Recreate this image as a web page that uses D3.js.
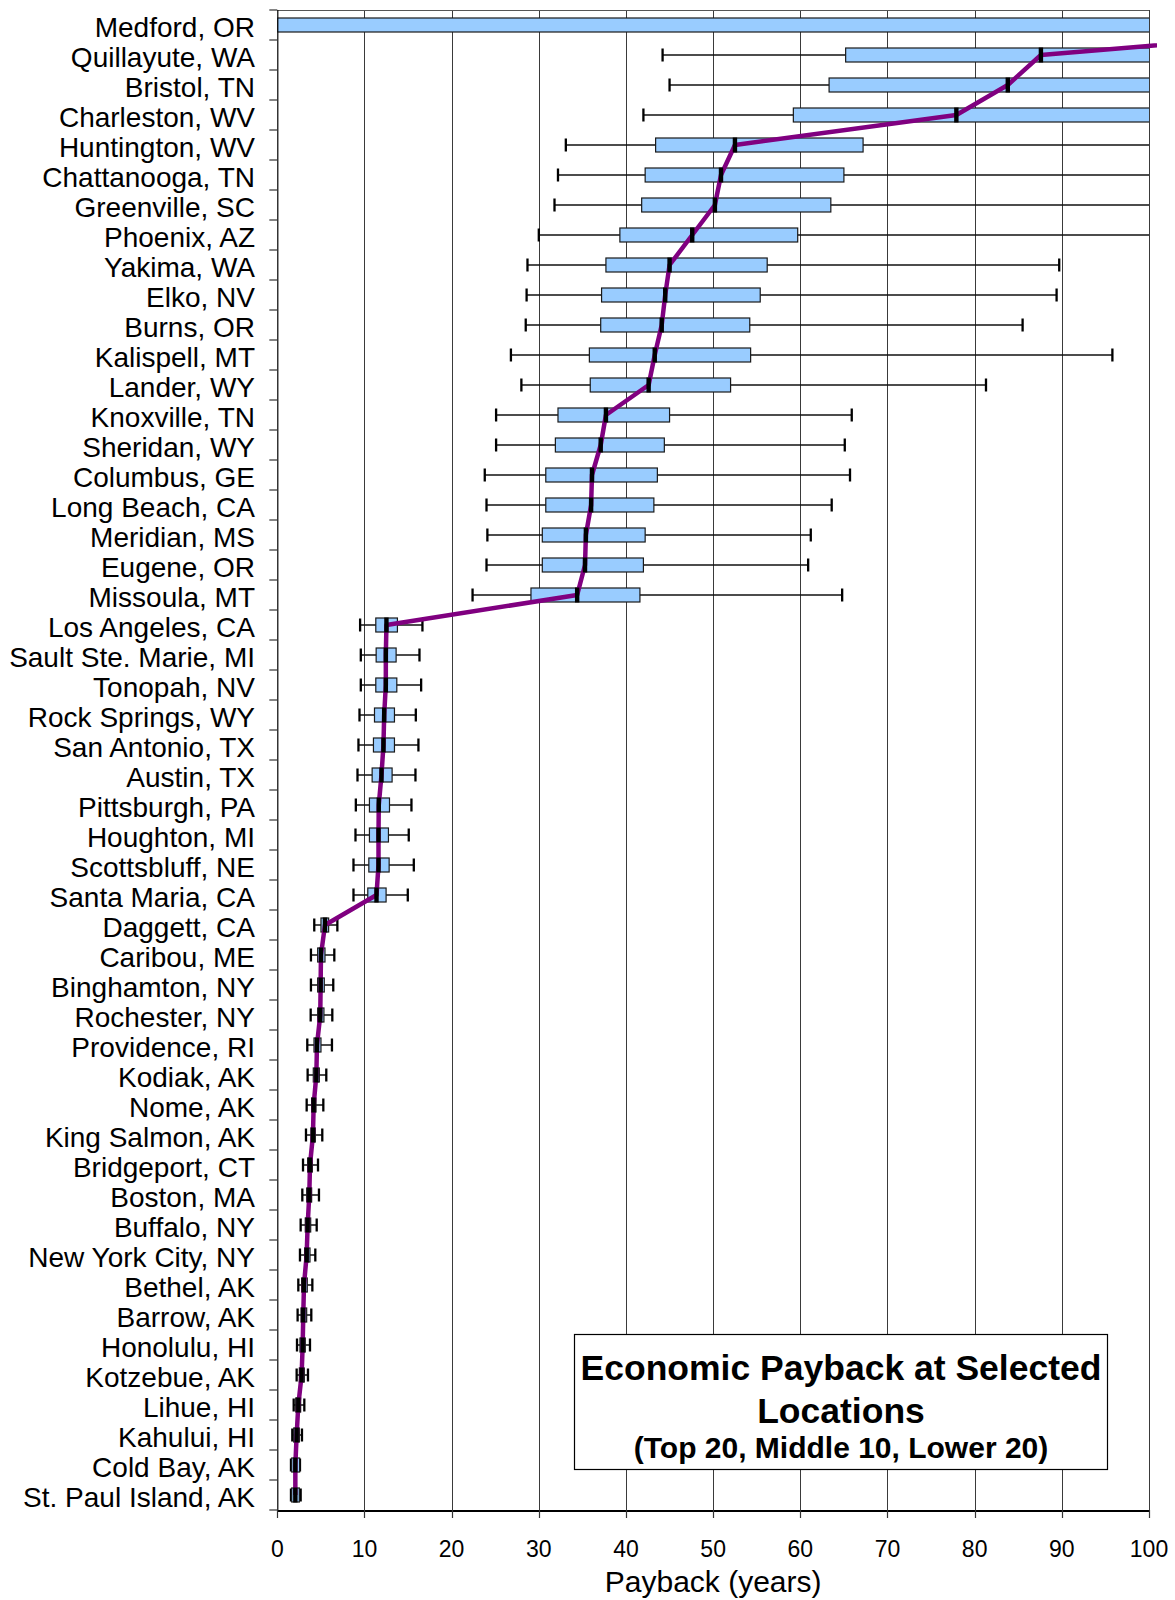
<!DOCTYPE html>
<html>
<head>
<meta charset="utf-8">
<script src="https://cdn.jsdelivr.net/npm/d3@7"></script>
<style>
  html, body { margin: 0; padding: 0; background: #fff; }
  svg { display: block; font-family: "Liberation Sans", Arial, sans-serif; }
</style>
</head>
<body>
<svg id="chart" width="1175" height="1600"></svg>
<script>
// Payback distribution per location (years): whiskers, quartiles and median.
const cities = [
  "Medford, OR", "Quillayute, WA", "Bristol, TN", "Charleston, WV", "Huntington, WV",
  "Chattanooga, TN", "Greenville, SC", "Phoenix, AZ", "Yakima, WA", "Elko, NV",
  "Burns, OR", "Kalispell, MT", "Lander, WY", "Knoxville, TN", "Sheridan, WY",
  "Columbus, GE", "Long Beach, CA", "Meridian, MS", "Eugene, OR", "Missoula, MT",
  "Los Angeles, CA", "Sault Ste. Marie, MI", "Tonopah, NV", "Rock Springs, WY", "San Antonio, TX",
  "Austin, TX", "Pittsburgh, PA", "Houghton, MI", "Scottsbluff, NE", "Santa Maria, CA",
  "Daggett, CA", "Caribou, ME", "Binghamton, NY", "Rochester, NY", "Providence, RI",
  "Kodiak, AK", "Nome, AK", "King Salmon, AK", "Bridgeport, CT", "Boston, MA",
  "Buffalo, NY", "New York City, NY", "Bethel, AK", "Barrow, AK", "Honolulu, HI",
  "Kotzebue, AK", "Lihue, HI", "Kahului, HI", "Cold Bay, AK", "St. Paul Island, AK"
];

const lowWhisker = [
  null, 44.2, 45.0, 42.0, 33.1, 32.2, 31.8, 30.0, 28.7, 28.6,
  28.5, 26.8, 28.0, 25.1, 25.1, 23.8, 24.0, 24.1, 24.0, 22.4,
  9.50, 9.58, 9.58, 9.43, 9.31, 9.20, 9.01, 8.97, 8.74, 8.74,
  4.24, 3.86, 3.86, 3.83, 3.44, 3.48, 3.37, 3.29, 2.95, 2.87,
  2.68, 2.60, 2.41, 2.33, 2.26, 2.22, 1.88, 1.72, 1.57, 1.57
];

const q1 = [
  0, 65.2, 63.3, 59.2, 43.4, 42.2, 41.8, 39.3, 37.7, 37.2,
  37.1, 35.8, 35.9, 32.2, 31.9, 30.8, 30.8, 30.4, 30.4, 29.1,
  11.30, 11.34, 11.30, 11.15, 11.03, 10.88, 10.57, 10.57, 10.50, 10.38,
  5.01, 4.63, 4.63, 4.63, 4.21, 4.13, 3.94, 3.86, 3.48, 3.37,
  3.21, 3.14, 2.79, 2.72, 2.60, 2.53, 2.11, 1.88, 1.65, 1.65
];

const median = [
  129, 87.6, 83.8, 77.9, 52.5, 50.9, 50.2, 47.6, 45.0, 44.5,
  44.1, 43.3, 42.6, 37.7, 37.1, 36.1, 36.0, 35.4, 35.3, 34.4,
  12.52, 12.45, 12.45, 12.26, 12.18, 11.95, 11.64, 11.61, 11.61, 11.38,
  5.47, 5.01, 4.97, 4.93, 4.55, 4.48, 4.17, 4.09, 3.75, 3.67,
  3.48, 3.37, 3.06, 2.98, 2.91, 2.79, 2.41, 2.22, 2.07, 2.07
];

const q3 = [
  200, 110, 108, 105, 67.2, 65.0, 63.5, 59.7, 56.2, 55.4,
  54.2, 54.3, 52.0, 45.0, 44.4, 43.6, 43.2, 42.2, 42.0, 41.6,
  13.78, 13.63, 13.71, 13.44, 13.44, 13.17, 12.87, 12.75, 12.83, 12.48,
  5.89, 5.47, 5.39, 5.35, 5.01, 4.82, 4.44, 4.36, 4.02, 3.94,
  3.83, 3.75, 3.44, 3.37, 3.21, 3.10, 2.68, 2.53, 2.56, 2.53
];

const highWhisker = [
  null, 140, 135, 130, 115, 112, 110, 105, 89.7, 89.4,
  85.5, 95.8, 81.3, 65.9, 65.1, 65.7, 63.6, 61.2, 60.9, 64.8,
  16.65, 16.31, 16.50, 15.89, 16.19, 15.85, 15.39, 15.08, 15.66, 14.97,
  6.89, 6.54, 6.42, 6.31, 6.27, 5.62, 5.28, 5.16, 4.67, 4.78,
  4.52, 4.36, 4.02, 3.90, 3.75, 3.52, 3.10, 2.83, 2.60, 2.68
];

const xTicks = [0, 10, 20, 30, 40, 50, 60, 70, 80, 90, 100];
const titleLines = ["Economic Payback at Selected", "Locations", "(Top 20, Middle 10, Lower 20)"];
const axisTitle = "Payback (years)";

const rows = cities.map((c, i) => ({
  city: c, lo: lowWhisker[i], q1: q1[i], med: median[i], q3: q3[i], hi: highWhisker[i]
}));

const margin = { top: 10, right: 26, bottom: 90, left: 277.3 };
const W = 1175, H = 1600;
const plotW = W - margin.left - margin.right;
const plotH = 1500;

const svg = d3.select("#chart");
const x = d3.scaleLinear().domain([0, 100]).range([margin.left, margin.left + plotW]);
const y = d3.scaleBand().domain(cities).range([margin.top, margin.top + plotH]).padding(0);
const yc = d => y(d) + y.bandwidth() / 2;
const boxH = 14, capH = 13;

// clip regions for marks that run past the axis range
const defs = svg.append("defs");
defs.append("clipPath").attr("id", "plotClip").append("rect")
  .attr("x", margin.left).attr("y", margin.top).attr("width", plotW).attr("height", plotH);
defs.append("clipPath").attr("id", "lineClip").append("rect")
  .attr("x", margin.left).attr("y", margin.top).attr("width", plotW + 8).attr("height", plotH);

// vertical gridlines
svg.append("g").selectAll("line").data(xTicks.slice(1)).join("line")
  .attr("x1", d => Math.round(x(d)) + 0.5).attr("x2", d => Math.round(x(d)) + 0.5)
  .attr("y1", margin.top).attr("y2", margin.top + plotH)
  .attr("stroke", "#3a3a3a").attr("stroke-width", 1);

// top frame
svg.append("line")
  .attr("x1", margin.left).attr("x2", x(100))
  .attr("y1", margin.top + 0.5).attr("y2", margin.top + 0.5)
  .attr("stroke", "#555").attr("stroke-width", 1.2);

const marks = svg.append("g").attr("clip-path", "url(#plotClip)");

// whiskers
const wh = marks.append("g");
rows.filter(r => r.lo != null).forEach(r => {
  const cy = yc(r.city);
  wh.append("line")
    .attr("x1", x(r.lo)).attr("x2", x(r.hi))
    .attr("y1", cy).attr("y2", cy)
    .attr("stroke", "#111").attr("stroke-width", 1.3);
  [r.lo, r.hi].forEach(v => {
    wh.append("line")
      .attr("x1", x(v)).attr("x2", x(v))
      .attr("y1", cy - capH / 2).attr("y2", cy + capH / 2)
      .attr("stroke", "#000").attr("stroke-width", 2.3);
  });
});

// interquartile boxes
marks.append("g").selectAll("rect").data(rows).join("rect")
  .attr("x", d => x(d.q1))
  .attr("y", d => yc(d.city) - boxH / 2)
  .attr("width", d => x(d.q3) - x(d.q1))
  .attr("height", boxH)
  .attr("fill", "#99ccff")
  .attr("stroke", "#1a1a1a").attr("stroke-width", 1.2);

// median trace
const line = d3.line().x(d => x(d.med)).y(d => yc(d.city));
svg.append("path")
  .datum(rows)
  .attr("clip-path", "url(#lineClip)")
  .attr("d", line)
  .attr("fill", "none")
  .attr("stroke", "#800080")
  .attr("stroke-width", 4.5)
  .attr("stroke-linejoin", "round");

// median ticks, drawn over the trace
svg.append("g").attr("clip-path", "url(#plotClip)")
  .selectAll("rect").data(rows).join("rect")
  .attr("x", d => x(d.med) - 2.2)
  .attr("y", d => yc(d.city) - boxH / 2 - 0.5)
  .attr("width", 4.4)
  .attr("height", boxH + 1)
  .attr("fill", "#000");

// y axis: labels and boundary ticks
const yAxis = svg.append("g");
yAxis.append("line")
  .attr("x1", margin.left + 0.5).attr("x2", margin.left + 0.5)
  .attr("y1", margin.top).attr("y2", margin.top + plotH)
  .attr("stroke", "#000").attr("stroke-width", 1.2);
const bounds = cities.map(c => y(c)).concat([y(cities[cities.length - 1]) + y.bandwidth()]);
yAxis.selectAll("line.tick").data(bounds).join("line").attr("class", "tick")
  .attr("x1", margin.left - 8).attr("x2", margin.left)
  .attr("y1", d => d).attr("y2", d => d)
  .attr("stroke", "#333").attr("stroke-width", 1.2);
yAxis.selectAll("text").data(cities).join("text")
  .attr("x", 255)
  .attr("y", d => yc(d) + 12)
  .attr("text-anchor", "end")
  .attr("font-size", 28)
  .attr("fill", "#000")
  .text(d => d);

// x axis
const xAxisG = svg.append("g");
xAxisG.append("line")
  .attr("x1", margin.left).attr("x2", x(100) + 0.5)
  .attr("y1", margin.top + plotH + 1).attr("y2", margin.top + plotH + 1)
  .attr("stroke", "#000").attr("stroke-width", 2);
xAxisG.selectAll("line.tick").data(xTicks).join("line").attr("class", "tick")
  .attr("x1", d => Math.round(x(d)) + 0.5).attr("x2", d => Math.round(x(d)) + 0.5)
  .attr("y1", margin.top + plotH).attr("y2", margin.top + plotH + 8)
  .attr("stroke", "#333").attr("stroke-width", 1.2);
xAxisG.selectAll("text").data(xTicks).join("text")
  .attr("x", d => x(d))
  .attr("y", 1557)
  .attr("text-anchor", "middle")
  .attr("font-size", 23)
  .attr("fill", "#000")
  .text(d => d);
svg.append("text")
  .attr("x", x(50)).attr("y", 1592)
  .attr("text-anchor", "middle")
  .attr("font-size", 30)
  .attr("fill", "#000")
  .text(axisTitle);

// title box
const tb = svg.append("g");
tb.append("rect")
  .attr("x", 574.5).attr("y", 1334.5).attr("width", 533).attr("height", 135)
  .attr("fill", "#fff").attr("stroke", "#000").attr("stroke-width", 1.2);
const tcx = 574.5 + 533 / 2;
tb.append("text").attr("x", tcx).attr("y", 1380).attr("text-anchor", "middle")
  .attr("font-size", 35.5).attr("font-weight", "bold").text(titleLines[0]);
tb.append("text").attr("x", tcx).attr("y", 1423).attr("text-anchor", "middle")
  .attr("font-size", 35.5).attr("font-weight", "bold").text(titleLines[1]);
tb.append("text").attr("x", tcx).attr("y", 1458).attr("text-anchor", "middle")
  .attr("font-size", 30).attr("font-weight", "bold").text(titleLines[2]);
</script>
</body>
</html>
